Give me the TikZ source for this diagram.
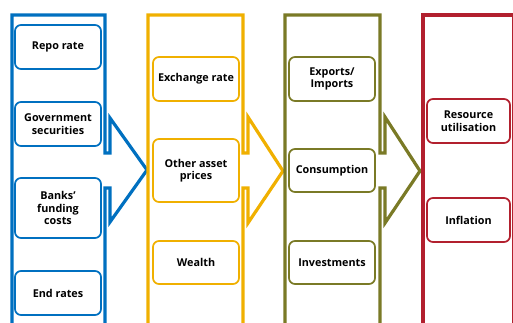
\documentclass[tikz,border=0pt]{standalone}
\usepackage{fontspec}
\setmainfont{Open Sans}
\usepackage{xcolor}

\definecolor{chainblue}{RGB}{0,112,192}
\definecolor{chainyellow}{RGB}{240,176,0}
\definecolor{chainolive}{RGB}{122,122,38}
\definecolor{chainred}{RGB}{178,32,46}

\tikzset{
  column/.style={line width=3.2pt, line join=miter},
  item/.style={draw, line width=1.7pt, rounded corners=6pt, align=center,
    inner sep=1pt, font=\fontsize{10.8}{12.5}\selectfont\bfseries},
}

\begin{document}
\begin{tikzpicture}[x=1pt,y=-1pt]
  \useasboundingbox (0,0) rectangle (513,323);
  % columns with arrows
  \draw[column,chainblue](12,330)--(12,15)--(105,15)--(105,153)--(110,153)--(110,118)
    --(147,170)--(110,222)--(110,188)--(105,188)--(105,330);
  \draw[column,chainyellow](148,330)--(148,15)--(243,15)--(243,153)--(248,153)--(248,117)
    --(283,171)--(248,223)--(248,188)--(243,188)--(243,330);
  \draw[column,chainolive](285,330)--(285,15)--(380,15)--(380,153)--(385,153)--(385,117)
    --(420,171)--(385,223)--(385,188)--(380,188)--(380,330);
  \draw[column,chainred](423,330)--(423,15)--(513.5,15)--(513.5,330);
  % interest rates
  \node[item,chainblue,text=black,minimum width=86pt,minimum height=44pt] (repo) at (58,47) {Repo rate};
  \node[item,chainblue,text=black,minimum width=86pt,minimum height=44pt] (govsec) at (58,124) {Government\\securities};
  \node[item,chainblue,text=black,minimum width=86pt,minimum height=60pt] (banks) at (58,208) {Banks\char"0027\\funding\\costs};
  \node[item,chainblue,text=black,minimum width=86pt,minimum height=44pt] (endrates) at (58,293) {End rates};
  % asset prices
  \node[item,chainyellow,text=black,minimum width=86pt,minimum height=44pt] (exch) at (196,79) {Exchange rate};
  \node[item,chainyellow,text=black,minimum width=86pt,minimum height=63pt] (assets) at (196,170.5) {Other asset\\prices};
  \node[item,chainyellow,text=black,minimum width=86pt,minimum height=43pt] (wealth) at (196,262.5) {Wealth};
  % demand
  \node[item,chainolive,text=black,minimum width=86pt,minimum height=44pt] (trade) at (332,79) {Exports/\\Imports};
  \node[item,chainolive,text=black,minimum width=86pt,minimum height=43pt] (consump) at (332,170.5) {Consumption};
  \node[item,chainolive,text=black,minimum width=86pt,minimum height=43pt] (invest) at (332,262.5) {Investments};
  % outcome
  \node[item,chainred,text=black,minimum width=83pt,minimum height=44pt] (resource) at (468.5,121) {Resource\\utilisation};
  \node[item,chainred,text=black,minimum width=83pt,minimum height=44pt] (inflation) at (468.5,220) {Inflation};
\end{tikzpicture}
\end{document}
